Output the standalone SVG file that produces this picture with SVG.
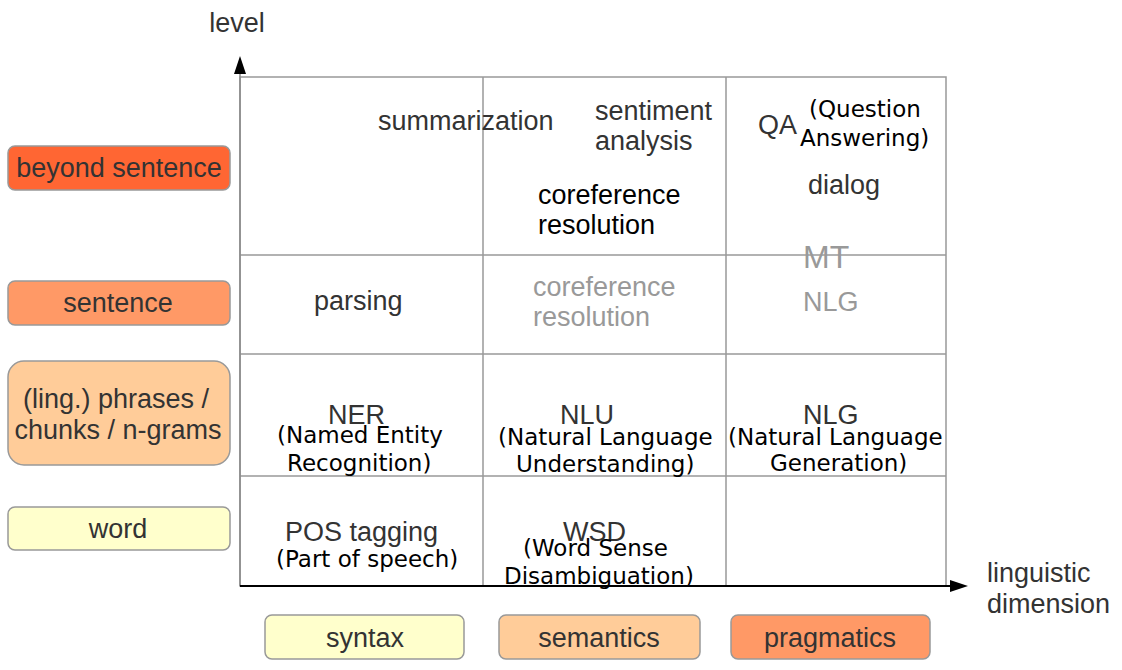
<svg xmlns="http://www.w3.org/2000/svg" width="1122" height="670" viewBox="0 0 1122 670">
<defs>
<style>
.t{font-family:"Liberation Sans",Arial,sans-serif;font-size:27px;fill:#333}
.g{fill:#999}
.k{fill:#000}
.d{font-family:"DejaVu Sans",sans-serif;font-size:23px;fill:#000}
.box{stroke:#999;stroke-width:1.5}
.grid{stroke:#999;stroke-width:1.5;fill:none}
.c{text-anchor:middle}
</style>
</defs>
<rect width="1122" height="670" fill="#fff"/>
<g id="grid">
<rect class="grid" x="240" y="77" width="706" height="509"/>
<line class="grid" x1="483" y1="77" x2="483" y2="586"/>
<line class="grid" x1="726" y1="77" x2="726" y2="586"/>
<line class="grid" x1="240" y1="255" x2="946" y2="255"/>
<line class="grid" x1="240" y1="354" x2="946" y2="354"/>
<line class="grid" x1="240" y1="476" x2="946" y2="476"/>
</g>
<g id="connectors">
<path d="M240,586 L240,74" stroke="#888" stroke-width="1.5"/>
<path d="M234,74 L240,56 L246,74 z" fill="#000"/>
<path d="M240,586 L952,586" stroke="#000" stroke-width="2"/>
<path d="M950,580 L968,586 L950,592 z" fill="#000"/>
</g>
<g id="axis-labels">
<text class="t" x="237" y="32" text-anchor="middle">level</text>
<text class="t" x="987" y="582">linguistic</text>
<text class="t" x="987" y="613">dimension</text>
</g>
<g id="level-beyond"><rect class="box" x="8" y="146" width="222" height="44" rx="7" fill="#ff6633"/><text class="t c" x="119" y="177">beyond sentence</text></g>
<g id="level-sentence"><rect class="box" x="8" y="281" width="222" height="44" rx="7" fill="#ff9966"/><text class="t c" x="118" y="312">sentence</text></g>
<g id="level-phrases"><rect class="box" x="8" y="361" width="222" height="104" rx="16" fill="#ffcc99"/><text class="t c" x="116" y="408">(ling.) phrases /</text><text class="t c" x="118" y="439">chunks / n-grams</text></g>
<g id="level-word"><rect class="box" x="8" y="507" width="222" height="43" rx="7" fill="#ffffcc"/><text class="t c" x="118" y="538">word</text></g>
<g id="dim-syntax"><rect class="box" x="265" y="615" width="199" height="44" rx="7" fill="#ffffcc"/><text class="t c" x="365" y="647">syntax</text></g>
<g id="dim-semantics"><rect class="box" x="499" y="615" width="201" height="44" rx="7" fill="#ffcc99"/><text class="t c" x="599" y="647">semantics</text></g>
<g id="dim-pragmatics"><rect class="box" x="731" y="615" width="199" height="44" rx="7" fill="#ff9966"/><text class="t c" x="830" y="647">pragmatics</text></g>
<g id="cell-summarization"><text class="t" x="378" y="130">summarization</text></g>
<g id="cell-sentiment"><text class="t" x="595" y="120">sentiment</text><text class="t" x="595" y="150">analysis</text></g>
<g id="cell-qa"><text class="t" x="758" y="134">QA</text><text class="d" x="809" y="117">(Question</text><text class="d" x="800" y="146">Answering)</text></g>
<g id="cell-dialog"><text class="t" x="808" y="194">dialog</text></g>
<g id="cell-coref-bs"><text class="t k" x="538" y="204">coreference</text><text class="t k" x="538" y="234">resolution</text></g>
<g id="cell-mt"><text class="t g" x="803" y="268" style="font-size:32px">MT</text></g>
<g id="cell-parsing"><text class="t" x="314" y="310">parsing</text></g>
<g id="cell-coref-s"><text class="t g" x="533" y="296">coreference</text><text class="t g" x="533" y="326">resolution</text></g>
<g id="cell-nlg-s"><text class="t g" x="803" y="311">NLG</text></g>
<g id="cell-ner"><text class="t" x="328" y="424">NER</text><text class="d" x="277" y="443">(Named Entity</text><text class="d" x="287" y="471">Recognition)</text></g>
<g id="cell-nlu"><text class="t" x="560" y="424">NLU</text><text class="d" x="498" y="445">(Natural Language</text><text class="d" x="516" y="472">Understanding)</text></g>
<g id="cell-nlg"><text class="t" x="803" y="424">NLG</text><text class="d" x="728" y="445">(Natural Language</text><text class="d" x="770" y="471">Generation)</text></g>
<g id="cell-pos"><text class="t" x="285" y="541">POS tagging</text><text class="d" x="276" y="567">(Part of speech)</text></g>
<g id="cell-wsd"><text class="t" x="563" y="541">WSD</text><text class="d" x="523" y="556">(Word Sense</text><text class="d" x="504" y="584">Disambiguation)</text></g>
</svg>
